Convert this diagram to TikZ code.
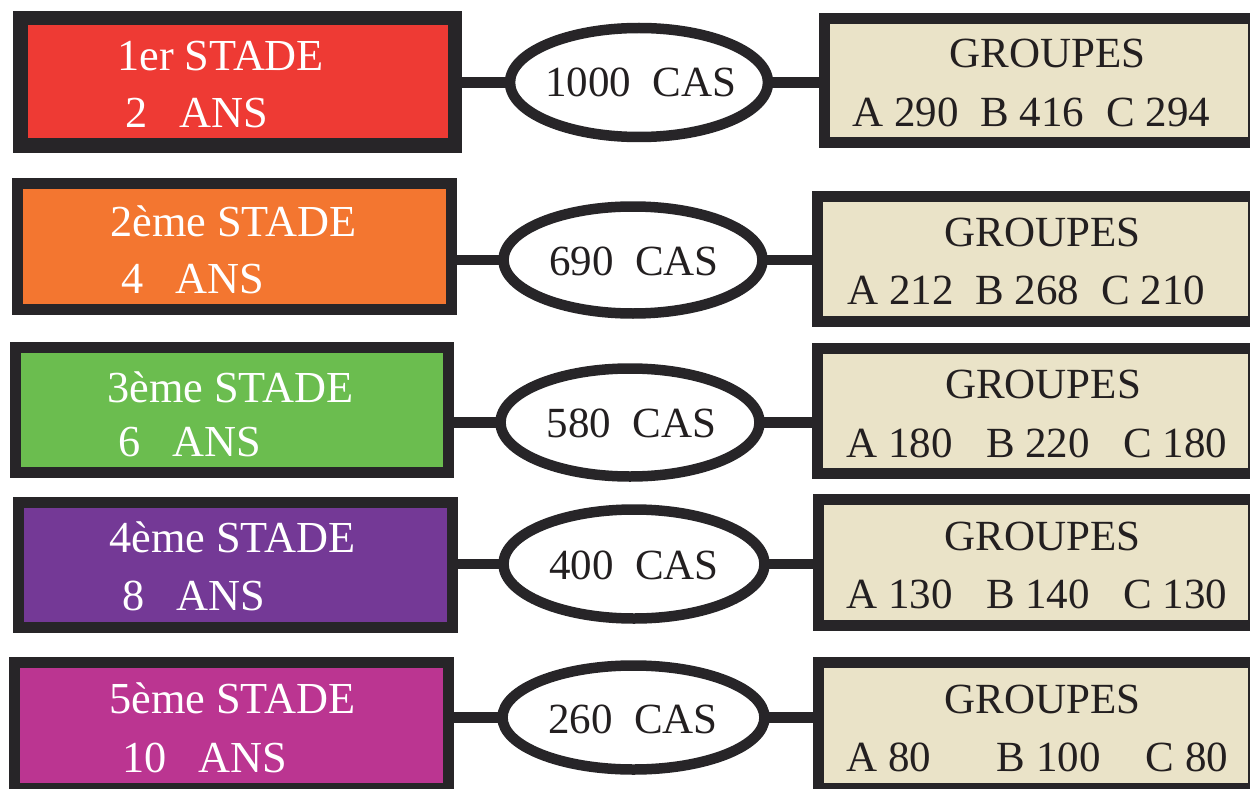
\documentclass[tikz,border=0pt]{standalone}
\usepackage{fontspec}
\setmainfont{Liberation Serif}
\usetikzlibrary{shapes.geometric,backgrounds}
\definecolor{edge}{HTML}{272528}
\definecolor{ink}{HTML}{231F20}
\definecolor{cred}{HTML}{EE3A34}
\definecolor{corange}{HTML}{F37630}
\definecolor{cgreen}{HTML}{6BBD4F}
\definecolor{cpurple}{HTML}{743996}
\definecolor{cmagenta}{HTML}{BB3591}
\definecolor{cbeige}{HTML}{EAE3C8}
\newcommand\diagfont{\fontsize{43}{50}\selectfont}
\newcommand\stagefont{\fontsize{44.3}{50}\selectfont}
\begin{document}
\begin{tikzpicture}[x=1pt,y=-1pt,
  box/.style={draw=edge, rectangle, inner sep=0pt, outer sep=0pt, line width=11pt},
  gbox/.style={box, fill=cbeige},
  cas/.style={draw=edge, ellipse, fill=white, inner sep=0pt, outer sep=0pt, line width=10.5pt},
  link/.style={draw=edge, line width=10.5pt},
  wtxt/.style={text=white, inner sep=0pt, font=\stagefont, anchor=base west},
  dtxt/.style={text=ink, inner sep=0pt, font=\diagfont},
]
\path[use as bounding box] (0,0) rectangle (1250,789);
\clip (0,0) rectangle (1250,789);

% Row 1
\node[box, fill=cred, line width=14.5pt, minimum width=434.5pt, minimum height=127.5pt] (L1) at (237.75,81.75) {};
\node[cas, minimum width=258pt, minimum height=109pt] (E1) at (639,82.5) {};
\node[gbox, minimum width=429pt, minimum height=124.5pt] (R1) at (1038.5,80.75) {};
% Row 2
\node[box, fill=corange, minimum width=434pt, minimum height=126pt] (L2) at (234.5,246.5) {};
\node[cas, minimum width=259pt, minimum height=107pt] (E2) at (633,260) {};
\node[gbox, minimum width=435.5pt, minimum height=125.5pt] (R2) at (1035.25,258.75) {};
% Row 3
\node[box, fill=cgreen, minimum width=433.5pt, minimum height=125pt] (L3) at (231.75,410) {};
\node[cas, minimum width=259pt, minimum height=108pt] (E3) at (630,422.5) {};
\node[gbox, minimum width=435.5pt, minimum height=125pt] (R3) at (1035.25,410.5) {};
% Row 4
\node[box, fill=cpurple, minimum width=434.5pt, minimum height=125.5pt] (L4) at (235.25,564.75) {};
\node[cas, minimum width=261pt, minimum height=109pt] (E4) at (634,564) {};
\node[gbox, minimum width=435pt, minimum height=125.5pt] (R4) at (1035.5,562.25) {};
% Row 5
\node[box, fill=cmagenta, minimum width=434pt, minimum height=126pt] (L5) at (231.5,725) {};
\node[cas, minimum width=262pt, minimum height=104pt] (E5) at (633.5,717.5) {};
\node[gbox, minimum width=435pt, minimum height=126pt] (R5) at (1035.5,725) {};

\begin{scope}[on background layer]
\foreach \i in {1,...,5} {
  \draw[link] (E\i.west -| L\i.east) -- (E\i.west);
  \draw[link] (E\i.east) -- (E\i.east -| R\i.west);
}
\end{scope}

% Left texts
\node[wtxt] (t1a) at (117,71) {1er STADE};
\node[wtxt] (t1b) at (125,128) {2\hspace{32pt}ANS};
\node[wtxt] (t2a) at (110,236) {2ème STADE};
\node[wtxt] (t2b) at (121,293) {4\hspace{32pt}ANS};
\node[wtxt] (t3a) at (107,402) {3ème STADE};
\node[wtxt] (t3b) at (118,456) {6\hspace{32pt}ANS};
\node[wtxt] (t4a) at (109,552) {4ème STADE};
\node[wtxt] (t4b) at (122,610) {8\hspace{32pt}ANS};
\node[wtxt] (t5a) at (109,713) {5ème STADE};
\node[wtxt] (t5b) at (122,772) {10\hspace{32pt}ANS};

% Ellipse texts
\node[dtxt, anchor=base] (c1) at (641,97) {1000\hspace{21.5pt}CAS};
\node[dtxt, anchor=base] (c2) at (634,275) {690\hspace{21.5pt}CAS};
\node[dtxt, anchor=base] (c3) at (631.5,437) {580\hspace{21.5pt}CAS};
\node[dtxt, anchor=base] (c4) at (634,579) {400\hspace{21.5pt}CAS};
\node[dtxt, anchor=base] (c5) at (633,733) {260\hspace{21.5pt}CAS};

% Right texts
\node[dtxt, anchor=base] (g1) at (1047.5,68) {GROUPES};
\node[dtxt, anchor=base west] (n1) at (852,127) {A 290\hspace{22pt}B 416\hspace{22pt}C 294};
\node[dtxt, anchor=base] (g2) at (1042.5,246) {GROUPES};
\node[dtxt, anchor=base west] (n2) at (847,304) {A 212\hspace{22pt}B 268\hspace{22pt}C 210};
\node[dtxt, anchor=base] (g3) at (1043,398) {GROUPES};
\node[dtxt, anchor=base west] (n3) at (846,457) {A 180\hspace{33.5pt}B 220\hspace{33.5pt}C 180};
\node[dtxt, anchor=base] (g4) at (1042.5,550) {GROUPES};
\node[dtxt, anchor=base west] (n4) at (846,608) {A 130\hspace{33.5pt}B 140\hspace{33.5pt}C 130};
\node[dtxt, anchor=base] (g5) at (1042.5,713) {GROUPES};
\node[dtxt, anchor=base west] (n5) at (846,771) {A 80\hspace{66pt}B 100\hspace{45pt}C 80};
\end{tikzpicture}
\end{document}
